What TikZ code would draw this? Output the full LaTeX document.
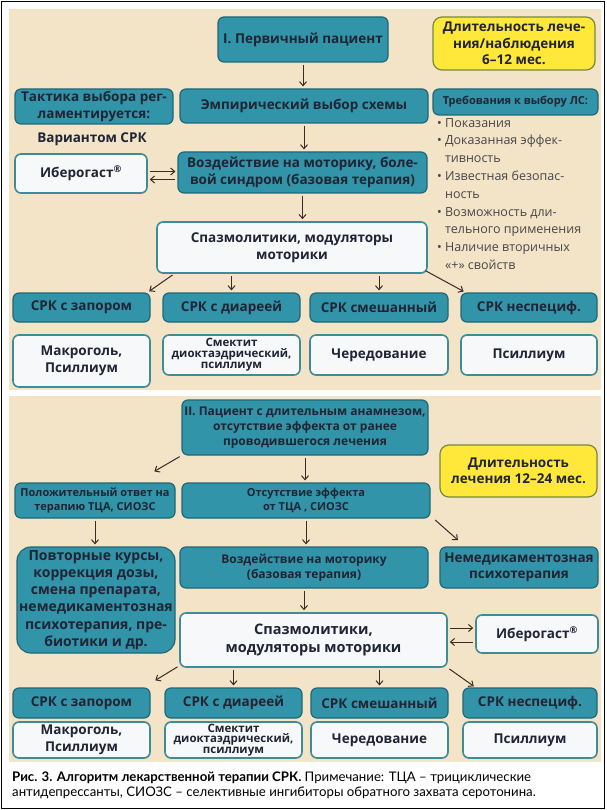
\documentclass[tikz,border=0pt]{standalone}
\usepackage{fontspec}
\setmainfont{Open Sans}
\newfontfamily\capfont{Lato}
\usepackage{tikz}
\usetikzlibrary{arrows.meta}
\definecolor{beige}{RGB}{243,227,199}
\definecolor{tealfill}{RGB}{50,148,168}
\definecolor{tealline}{RGB}{30,104,120}
\definecolor{paleblue}{RGB}{246,248,249}
\definecolor{paleline}{RGB}{62,140,152}
\definecolor{lemon}{RGB}{255,232,58}
\definecolor{lemonline}{RGB}{118,138,62}
\definecolor{ink}{RGB}{32,36,52}
\definecolor{arrowc}{RGB}{58,44,36}
\definecolor{listgray}{RGB}{70,70,72}

\begin{document}
\begin{tikzpicture}[x=1pt, y=-1pt, >={Straight Barb[length=4pt,width=7pt]},
        cell/.style={rounded corners=6pt, line width=1.2pt, align=center, text=ink, inner sep=1pt},
        tealbox/.style={cell, draw=tealline, fill=tealfill},
        palebox/.style={cell, draw=paleline, fill=paleblue, line width=1.6pt},
        lemonbox/.style={cell, draw=lemonline, fill=lemon, rounded corners=9pt},
        arr/.style={->, line width=1pt, draw=arrowc, shorten <=2pt, shorten >=2pt},
        fbig/.style={font=\fontsize{13.5}{16.5}\selectfont\bfseries},
        fmid/.style={font=\fontsize{12}{15}\selectfont\bfseries},
        fsml/.style={font=\fontsize{11}{13.5}\selectfont\bfseries},
        cat/.style={tealbox, fbig, minimum width=137pt, minimum height=29pt},
        drug/.style={palebox, fbig, minimum width=137pt}]
        \useasboundingbox (0,0) rectangle (606,810);
        \fill[white] (0,0) rectangle (606,810);
        \draw[line width=1.2pt] (1.5,1.5) rectangle (604.5,808.5);
        \fill[beige] (9,9) rectangle (601,390);
        \fill[beige] (9,396) rectangle (601,762);

        \node[tealbox, fbig, minimum width=170pt, minimum height=45pt] (pat1) at (303,39.5) {I. Первичный пациент};
        \node[lemonbox, fbig, minimum width=162pt, minimum height=53pt] (dur1) at (514,43.5) {Длительность лече-\\ния/наблюдения\\6–12 мес.};
        \node[tealbox, fbig, minimum width=158pt, minimum height=35pt] (tactic) at (94,106.5) {Тактика выбора рег-\\ламентируется:};
        \node[tealbox, fbig, minimum width=248pt, minimum height=34pt] (empir) at (304,106) {Эмпирический выбор схемы};
        \node[tealbox, fsml, minimum width=165pt, minimum height=26pt] (reqs) at (515.5,102) {Требования к выбору ЛС:};
        \node[fbig, text=ink] (variant) at (92,139) {Вариантом СРК};
        \node[anchor=north west, align=left, text=listgray, inner sep=0pt, font=\fontsize{12.5}{17.8}\selectfont] (reqlist) at (437,118)
          {\textbullet\ Показания\\
           \textbullet\ Доказанная эффек-\\
           \hphantom{\textbullet\ }тивность\\
           \textbullet\ Известная безопас-\\
           \hphantom{\textbullet\ }ность\\
           \textbullet\ Возможность дли-\\
           \hphantom{\textbullet\ }тельного применения\\
           \textbullet\ Наличие вторичных\\
           \hphantom{\textbullet\ }«+» свойств};
        \node[palebox, fbig, minimum width=132pt, minimum height=39pt] (iber1) at (81,173.5) {Иберогаст\textsuperscript{®}};
        \node[tealbox, fbig, minimum width=249pt, minimum height=41pt] (motor1) at (302.5,172.5) {Воздействие на моторику, боле-\\вой синдром (базовая терапия)};
        \node[palebox, fbig, minimum width=270pt, minimum height=51pt] (spasm1) at (292,247.5) {Спазмолитики, модуляторы\\моторики};
        \node[cat] (constip1) at (81.5,307.5) {СРК с запором};
        \node[cat] (diarr1) at (231.5,307.5) {СРК с диареей};
        \node[cat, minimum width=138pt] (mixed1) at (379,307.5) {СРК смешанный};
        \node[cat, minimum width=136pt] (unspec1) at (529,307.5) {СРК неспециф.};
        \node[drug, minimum height=52pt] (macro1) at (81.5,361) {Макроголь,\\Псиллиум};
        \node[drug, minimum height=40pt, font=\fontsize{11.5}{11}\selectfont\bfseries] (smect1) at (231.5,355) {Смектит\\диоктаэдрический,\\псиллиум};
        \node[drug, minimum height=40pt, minimum width=138pt] (altern1) at (379,355) {Чередование};
        \node[drug, minimum height=40pt, minimum width=136pt] (psyll1) at (529,355) {Псиллиум};

        \draw[arr] (pat1.south) -- (pat1.south |- empir.north);
        \draw[arr] (empir.south) -- (empir.south |- motor1.north);
        \draw[arr] (motor1.south) -- (motor1.south |- spasm1.north);
        \draw[arr] ([yshift=2pt]iber1.east) -- ([yshift=2pt]iber1.east -| motor1.west);
        \draw[arr] ([yshift=-6pt]iber1.east -| motor1.west) -- ([yshift=-6pt]iber1.east);
        \draw[arr] ([xshift=18pt]spasm1.south west) -- ([xshift=-3pt]constip1.north east);
        \draw[arr] (diarr1.north |- spasm1.south) -- (diarr1.north);
        \draw[arr] (mixed1.north |- spasm1.south) -- (mixed1.north);
        \draw[arr] ([shift={(-4pt,4pt)}]spasm1.south east) -- ([xshift=5pt]unspec1.north west);

        \node[tealbox, fmid, minimum width=246pt, minimum height=55pt] (pat2) at (305,427.5) {II. Пациент с длительным анамнезом,\\отсутствие эффекта от ранее\\проводившегося лечения};
        \node[lemonbox, fbig, minimum width=157pt, minimum height=52pt] (dur2) at (518.5,471) {Длительность\\лечения 12–24 мес.};
        \node[tealbox, fsml, minimum width=160pt, minimum height=35pt] (posit) at (95,500.5) {Положительный ответ на\\терапию ТЦА, СИОЗС};
        \node[tealbox, fsml, minimum width=248pt, minimum height=35pt] (noeff) at (306,500.5) {Отсутствие эффекта\\от ТЦА , СИОЗС};
        \node[tealbox, font=\fontsize{14}{17.2}\selectfont\bfseries, minimum width=158pt, minimum height=106pt, rounded corners=14pt] (repeat) at (96,600) {Повторные курсы,\\коррекция дозы,\\смена препарата,\\немедикаментозная\\психотерапия, пре-\\биотики и др.};
        \node[tealbox, fmid, minimum width=248pt, minimum height=41pt] (motor2) at (304,567.5) {Воздействие на моторику\\(базовая терапия)};
        \node[tealbox, fbig, minimum width=158pt, minimum height=41pt] (psycho) at (519,567.5) {Немедикаментозная\\психотерапия};
        \node[palebox, font=\fontsize{14.5}{18}\selectfont\bfseries, minimum width=267pt, minimum height=54pt] (spasm2) at (313.5,640) {Спазмолитики,\\модуляторы моторики};
        \node[palebox, fbig, minimum width=122pt, minimum height=38pt] (iber2) at (537,634) {Иберогаст\textsuperscript{®}};
        \node[cat, minimum height=30pt] (constip2) at (81.5,703) {СРК с запором};
        \node[cat, minimum height=30pt] (diarr2) at (233.5,703) {СРК с диареей};
        \node[cat, minimum height=30pt] (mixed2) at (379.5,703) {СРК смешанный};
        \node[cat, minimum height=30pt, minimum width=134pt] (unspec2) at (530,703) {СРК неспециф.};
        \node[drug, minimum height=36pt] (macro2) at (81.5,740) {Макроголь,\\Псиллиум};
        \node[drug, minimum height=36pt, font=\fontsize{11.5}{10.5}\selectfont\bfseries] (smect2) at (233.5,740) {Смектит\\диоктаэдрический,\\псиллиум};
        \node[drug, minimum height=36pt] (altern2) at (379.5,740) {Чередование};
        \node[drug, minimum height=36pt, minimum width=134pt] (psyll2) at (530,740) {Псиллиум};

        \draw[arr] (pat2.south west) -- ([shift={(-23pt,10pt)}]posit.north east);
        \draw[arr] (pat2.south) -- (pat2.south |- noeff.north);
        \draw[arr] (posit.south) -- (posit.south |- repeat.north);
        \draw[arr] (noeff.south) -- (noeff.south |- motor2.north);
        \draw[arr] ([xshift=3pt]noeff.south east) -- ([shift={(20pt,5pt)}]psycho.north west);
        \draw[arr] (motor2.south) -- (motor2.south |- spasm2.north);
        \draw[arr] ([yshift=6pt]spasm2.east |- iber2.west) -- ([yshift=6pt]iber2.west);
        \draw[arr] ([yshift=-8pt]iber2.west) -- ([yshift=-8pt]spasm2.east |- iber2.west);
        \draw[arr] ([yshift=2pt]spasm2.south west) -- ([shift={(3pt,6pt)}]constip2.north east);
        \draw[arr] (diarr2.north |- spasm2.south) -- (diarr2.north);
        \draw[arr] (mixed2.north |- spasm2.south) -- (mixed2.north);
        \draw[arr] (spasm2.south east) -- ([xshift=13pt]unspec2.north west);

        \node[anchor=north west, align=left, inner sep=0pt, font=\capfont\fontsize{13.2}{14.5}\selectfont] (caption) at (12,772)
          {\textbf{Рис. 3. Алгоритм лекарственной терапии СРК.} Примечание: ТЦА – трициклические\\антидепрессанты, СИОЗС – селективные ингибиторы обратного захвата серотонина.};
\end{tikzpicture}
\end{document}
